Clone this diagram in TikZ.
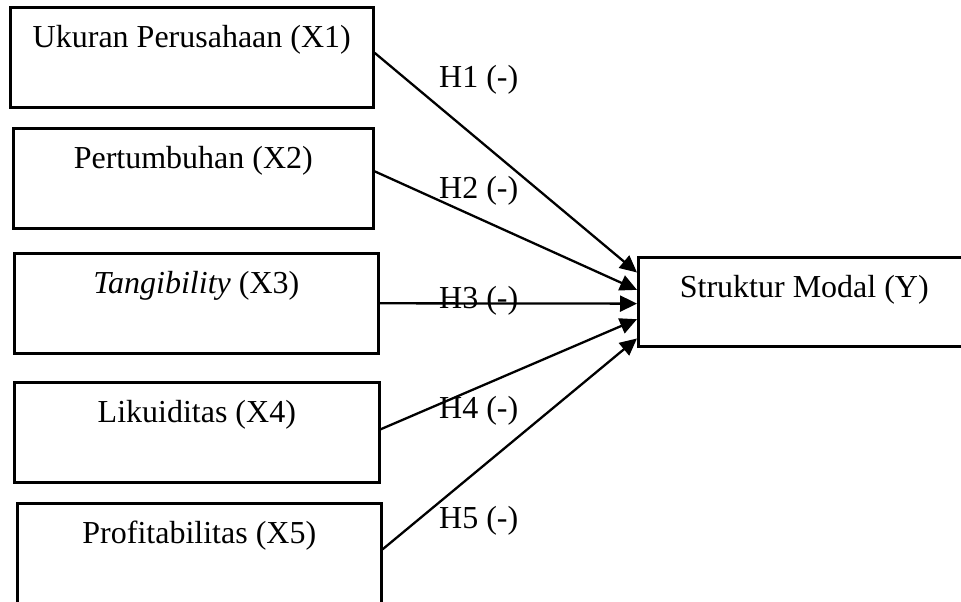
\documentclass[tikz,border=0pt]{standalone}
\usepackage{fontspec}
\setmainfont{Liberation Serif}
\usepackage{tikz}
\usetikzlibrary{arrows.meta,calc}

\begin{document}
\begin{tikzpicture}[x=1pt, y=-1pt,
    var/.style={rectangle, draw, line width=2.6pt, inner sep=0pt, text height=40pt, text depth=60pt, anchor=north west, font=\fontsize{32}{38}\selectfont},
    hyp/.style={anchor=base west, inner sep=0pt, font=\fontsize{32}{38}\selectfont},
    link/.style={-{Triangle[length=17pt,width=16pt]}, line width=2.3pt}]

    \clip (0,0) rectangle (961,602);

    \node[var, minimum width=363pt] (UKR) at (9,6) {Ukuran Perusahaan (X1)};
    \node[var, minimum width=360pt] (PER) at (12,127) {Pertumbuhan (X2)};
    \node[var, minimum width=364pt] (TAN) at (13,252) {\textit{Tangibility} (X3)};
    \node[var, minimum width=365pt] (LIK) at (13,381) {Likuiditas (X4)};
    \node[var, minimum width=364pt] (PRO) at (16,502) {Profitabilitas (X5)};
    \node[var, minimum width=332pt, text depth=49pt] (SM) at (637,256) {Struktur Modal (Y)};

    \node[hyp] (H1) at (439,87) {H1 (-)};
    \node[hyp] (H2) at (439,198) {H2 (-)};
    \node[hyp] (H3) at (439,308) {H3 (-)};
    \node[hyp] (H4) at (439,418) {H4 (-)};
    \node[hyp] (H5) at (439,528) {H5 (-)};

    \draw[link] ([yshift=4.5pt]UKR.east) -- ($(SM.north west)!0.18!(SM.south west)$);
    \draw[link] ([yshift=7pt]PER.east) -- ($(SM.north west)!0.37!(SM.south west)$);
    \draw[link] (TAN.east) -- ($(SM.north west)!0.52!(SM.south west)$);
    \draw[link] ([yshift=3pt]LIK.east) -- ($(SM.north west)!0.69!(SM.south west)$);
    \draw[link] ([yshift=4pt]PRO.east) -- ($(SM.north west)!0.9!(SM.south west)$);
\end{tikzpicture}
\end{document}
